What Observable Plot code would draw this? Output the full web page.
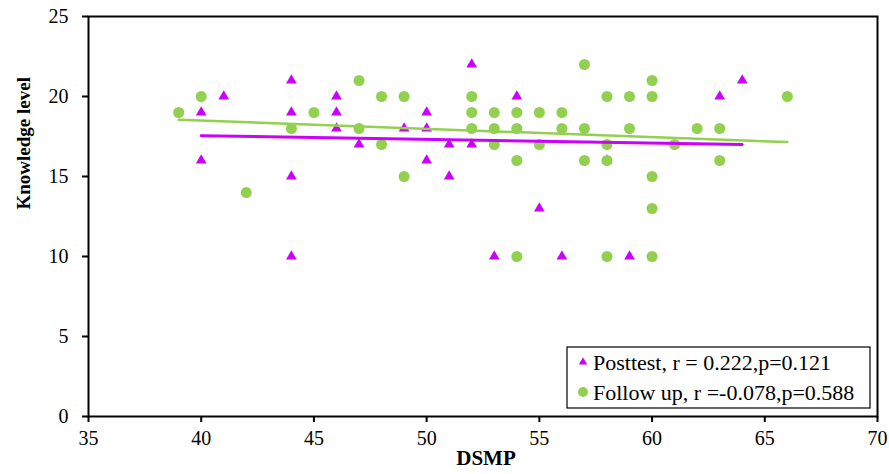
<!DOCTYPE html>
<html>
<head>
<meta charset="utf-8">
<script src="https://cdn.jsdelivr.net/npm/d3@7"></script>
<script src="https://cdn.jsdelivr.net/npm/@observablehq/plot@0.6"></script>
<style>
  html, body { margin: 0; padding: 0; background: white; }
  #chart { width: 889px; height: 474px; }
</style>
</head>
<body>
<div id="chart"></div>
<script>
// ---- Data ----
const xTicks = [35, 40, 45, 50, 55, 60, 65, 70];
const yTicks = [0, 5, 10, 15, 20, 25];

const postX = [40, 40, 41, 44, 44, 44, 44, 46, 46, 46, 47, 49, 50, 50, 50, 51, 51, 52, 52, 53, 54, 55, 56, 58, 59, 63, 64];
const postY = [19, 16, 20, 21, 19, 15, 10, 20, 19, 18, 17, 18, 19, 18, 16, 17, 15, 22, 17, 10, 20, 13, 10, 16, 10, 20, 21];

const followX = [39, 40, 42, 44, 45, 47, 47, 48, 48, 49, 49, 52, 52, 52, 53, 53, 53, 54, 54, 54, 54, 55, 55, 56, 56, 57, 57, 57, 58, 58, 58, 58, 59, 59, 60, 60, 60, 60, 60, 61, 62, 63, 63, 66];
const followY = [19, 20, 14, 18, 19, 21, 18, 20, 17, 20, 15, 20, 19, 18, 19, 18, 17, 19, 18, 16, 10, 19, 17, 19, 18, 22, 18, 16, 20, 17, 16, 10, 20, 18, 21, 20, 15, 13, 10, 17, 18, 18, 16, 20];

// trend lines (end points)
const postTrendX = [40, 64];
const postTrendY = [17.55, 17.0];
const followTrendX = [39, 66];
const followTrendY = [18.55, 17.15];

const legendLabels = ["Posttest, r = 0.222,p=0.121", "Follow up, r =-0.078,p=0.588"];
const xTitle = "DSMP";
const yTitle = "Knowledge level";

const magenta = "#cc00ff";
const green = "#92d050";

const post = postX.map((x, i) => ({x, y: postY[i]}));
const follow = followX.map((x, i) => ({x, y: followY[i]}));
const postTrend = postTrendX.map((x, i) => ({x, y: postTrendY[i]}));
const followTrend = followTrendX.map((x, i) => ({x, y: followTrendY[i]}));

const font = "'Liberation Serif', 'Times New Roman', serif";

const chart = Plot.plot({
  width: 889,
  height: 474,
  marginLeft: 88,
  marginRight: 12,
  marginTop: 16,
  marginBottom: 58,
  style: {fontFamily: font, fontSize: "20px", background: "white", color: "black"},
  x: {domain: [35, 70]},
  y: {domain: [0, 25]},
  marks: [
    Plot.axisX({ticks: xTicks, tickSize: 6, tickPadding: 8, label: null, strokeWidth: 2, fontSize: 20}),
    Plot.axisY({ticks: yTicks, tickSize: 6, tickPadding: 14, label: null, strokeWidth: 2, fontSize: 20}),
    Plot.frame({stroke: "black", strokeWidth: 2}),
    Plot.dot(post, {x: "x", y: "y", symbol: "triangle", r: 4, fill: magenta, stroke: "none"}),
    Plot.dot(follow, {x: "x", y: "y", symbol: "circle", r: 5.5, fill: green, stroke: "none"}),
    Plot.line(postTrend, {x: "x", y: "y", stroke: magenta, strokeWidth: 3}),
    Plot.line(followTrend, {x: "x", y: "y", stroke: green, strokeWidth: 2.5}),
    Plot.text([xTitle], {frameAnchor: "bottom", dx: 3, dy: 48, fontWeight: "bold", fontSize: 21}),
    Plot.text([yTitle], {frameAnchor: "left", dx: -65, dy: -7, rotate: -90, fontWeight: "bold", fontSize: 19})
  ]
});

document.getElementById("chart").appendChild(chart);

// Legend box drawn inside the svg
const svg = d3.select(chart);
const lg = svg.append("g").attr("font-family", font).attr("font-size", 22).attr("text-anchor", "start");
lg.append("rect").attr("x", 567).attr("y", 347).attr("width", 303).attr("height", 61)
  .attr("fill", "white").attr("stroke", "black").attr("stroke-width", 1.2);
const sym = [d3.symbolTriangle, d3.symbolCircle];
const cols = [magenta, green];
const sizes = [30, 78];
legendLabels.forEach((t, i) => {
  const cy = 362 + i * 30;
  lg.append("path").attr("d", d3.symbol(sym[i], sizes[i])()).attr("transform", `translate(583,${cy})`).attr("fill", cols[i]);
  lg.append("text").attr("x", 593).attr("y", cy).attr("dy", "0.35em").attr("fill", "black").text(t);
});
</script>
</body>
</html>
